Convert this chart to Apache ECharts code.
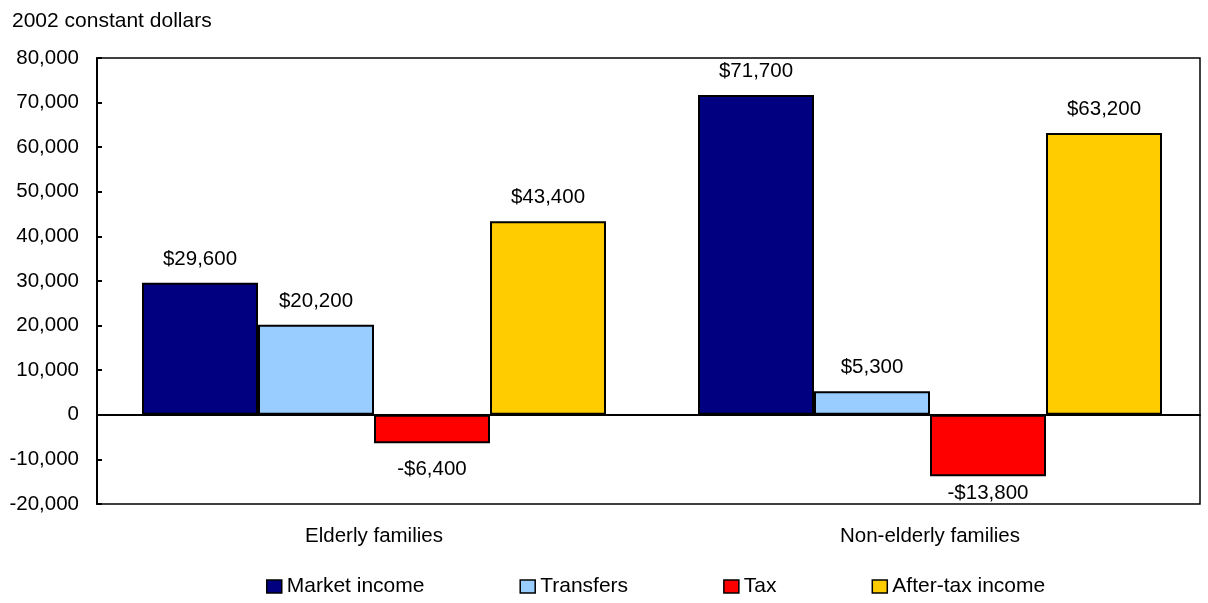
<!DOCTYPE html>
<html>
<head>
<meta charset="utf-8">
<script src="https://cdn.jsdelivr.net/npm/echarts@6/dist/echarts.min.js"></script>
<style>
  html, body { margin: 0; padding: 0; background: #fff; }
  #chart { width: 1208px; height: 603px; }
</style>
</head>
<body>
<div id="chart"></div>
<script>
// Family income components, 2002 constant dollars
const categories = ['Elderly families', 'Non-elderly families'];
const marketIncome = [29600, 71700];
const transfers = [20200, 5300];
const tax = [-6400, -13800];
const afterTax = [43400, 63200];
const yTicks = { min: -20000, max: 80000, step: 10000 };

const FONT = '"Liberation Sans", Arial, sans-serif';
const TXT = '#000';
const FS = 20.5;

function money(v) {
  const s = '$' + Math.abs(v).toLocaleString('en-US');
  return v < 0 ? '-' + s : s;
}

function barSeries(name, values, color, negDistance) {
  return {
    name: name,
    type: 'bar',
    xAxisIndex: 1,
    yAxisIndex: 1,
    barWidth: 116,
    barGap: '0%',
    itemStyle: { color: color, borderColor: '#000', borderWidth: 2 },
    label: {
      show: true,
      position: 'top',
      distance: 13,
      fontFamily: FONT,
      fontSize: FS,
      color: TXT,
      formatter: p => money(p.value)
    },
    data: values.map((v, i) => {
      const item = { value: v };
      if (v < 0) {
        item.label = { position: 'bottom' };
        if (negDistance && negDistance[i] != null) item.label.distance = negDistance[i];
      }
      return item;
    })
  };
}

const plotTop = 58, plotBottom = 99;

const chart = echarts.init(document.getElementById('chart'));
chart.setOption({
  animation: false,
  backgroundColor: '#fff',
  title: {
    text: '2002 constant dollars',
    left: 7,
    top: 6,
    textStyle: { fontFamily: FONT, fontSize: 21, fontWeight: 'normal', color: TXT }
  },
  legend: {
    bottom: 1,
    left: 261,
    itemWidth: 15,
    itemHeight: 13,
    itemGap: 95,
    icon: 'rect',
    itemStyle: { borderColor: '#000', borderWidth: 1.5 },
    textStyle: { fontFamily: FONT, fontSize: 21, color: TXT },
    data: ['Market income', 'Transfers', 'Tax', 'After-tax income']
  },
  grid: [
    // framed plot area with the value axis
    { left: 97, right: 8, top: plotTop, bottom: plotBottom, show: true,
      borderColor: '#000', borderWidth: 1.5 },
    // bar layout area
    { left: 96, right: 0, top: plotTop, bottom: plotBottom }
  ],
  xAxis: [
    { // zero baseline across the frame
      gridIndex: 0,
      type: 'category',
      data: categories,
      axisLine: { show: true, onZero: true, lineStyle: { color: '#000', width: 2 } },
      axisTick: { show: false },
      axisLabel: { show: false }
    },
    {
      gridIndex: 1,
      type: 'category',
      data: categories,
      position: 'bottom',
      axisLine: { show: false, onZero: false },
      axisTick: { show: false },
      axisLabel: { fontFamily: FONT, fontSize: FS, color: TXT, margin: 22 }
    }
  ],
  yAxis: [
    {
      gridIndex: 0,
      type: 'value',
      min: yTicks.min,
      max: yTicks.max,
      interval: yTicks.step,
      axisLine: { show: true, lineStyle: { color: '#000', width: 2 } },
      axisTick: { show: true, inside: true, length: 5, lineStyle: { color: '#000', width: 2 } },
      splitLine: { show: false },
      axisLabel: {
        fontFamily: FONT, fontSize: FS, color: TXT, margin: 18,
        formatter: v => v.toLocaleString('en-US')
      }
    },
    {
      gridIndex: 1,
      type: 'value',
      min: yTicks.min,
      max: yTicks.max,
      interval: yTicks.step,
      show: false
    }
  ],
  series: [
    barSeries('Market income', marketIncome, '#000080'),
    barSeries('Transfers', transfers, '#99ccff'),
    barSeries('Tax', tax, '#ff0000', [15, 6]),
    barSeries('After-tax income', afterTax, '#ffcc00')
  ]
});
</script>
</body>
</html>
